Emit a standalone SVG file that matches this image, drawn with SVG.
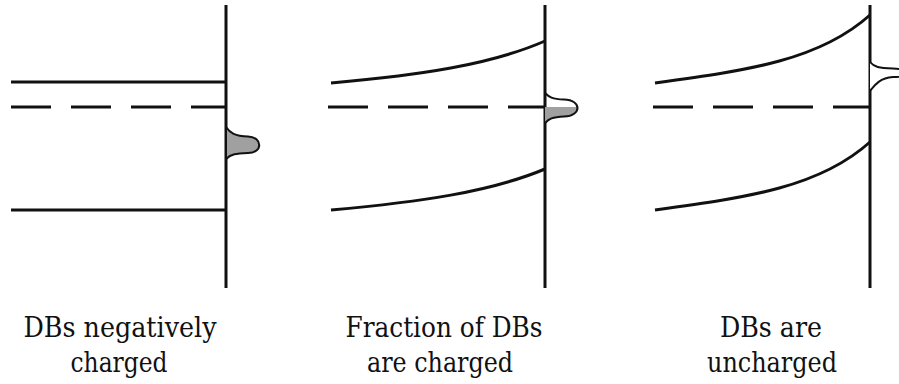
<svg xmlns="http://www.w3.org/2000/svg" width="899" height="384" viewBox="0 0 899 384">
  <style>
    .ln { fill: none; stroke: #111; stroke-width: 3; }
    .dash { fill: none; stroke: #111; stroke-width: 3; stroke-dasharray: 40 20; }
    .bump { stroke: #111; stroke-width: 2; }
    text { font-family: 'DejaVu Serif Condensed', 'DejaVu Serif', serif; font-stretch: condensed; font-size: 28px; fill: #111; text-anchor: middle; }
  </style>
  <defs>
    <clipPath id="belowFermi">
      <rect x="540" y="107" width="60" height="30"/>
    </clipPath>
  </defs>
  <rect width="899" height="384" fill="#fff"/>

  <g id="panel1">
    <line class="ln" x1="226" y1="5" x2="226" y2="288"/>
    <line class="ln" x1="11" y1="82" x2="226" y2="82"/>
    <line class="dash" x1="11" y1="107" x2="226" y2="107"/>
    <line class="ln" x1="11" y1="210" x2="226" y2="210"/>
    <path class="bump" fill="#a0a0a0" d="M226,127 C230,133 235,136 248,136.5 C263,137 263,153 248,153 C236,153.5 231,154 226,159 Z"/>
    <text x="120" y="337" textLength="193" lengthAdjust="spacingAndGlyphs">DBs negatively</text>
    <text x="119" y="372" textLength="97" lengthAdjust="spacingAndGlyphs">charged</text>
  </g>

  <g id="panel2">
    <line class="ln" x1="545" y1="5" x2="545" y2="288"/>
    <path class="ln" d="M331,83 C420,75 490,65 545,41"/>
    <line class="dash" x1="328" y1="107" x2="545" y2="107"/>
    <path class="ln" d="M331,210 C420,202 490,192 545,169"/>
    <path fill="#a0a0a0" clip-path="url(#belowFermi)" d="M545,93 C549,97 552,99 564,99.5 C582,100 582,116 564,116.5 C552,117 549,119 545,123 Z"/>
    <path class="bump" fill="none" d="M545,93 C549,97 552,99 564,99.5 C582,100 582,116 564,116.5 C552,117 549,119 545,123"/>
    <text x="444" y="337" textLength="197" lengthAdjust="spacingAndGlyphs">Fraction of DBs</text>
    <text x="440" y="372" textLength="146" lengthAdjust="spacingAndGlyphs">are charged</text>
  </g>

  <g id="panel3">
    <line class="ln" x1="870" y1="5" x2="870" y2="288"/>
    <path class="ln" d="M655,83 C750,70 820,60 870,15"/>
    <line class="dash" x1="653" y1="107" x2="870" y2="107"/>
    <path class="ln" d="M655,210 C750,197 820,187 870,142"/>
    <path class="bump" fill="#fff" d="M870,62 C874,67 879,68 893,68.5 C912,69 912,77 893,77 C879,78 874,86 870,91"/>
    <text x="771" y="337" textLength="102" lengthAdjust="spacingAndGlyphs">DBs are</text>
    <text x="772" y="372" textLength="130" lengthAdjust="spacingAndGlyphs">uncharged</text>
  </g>
</svg>
